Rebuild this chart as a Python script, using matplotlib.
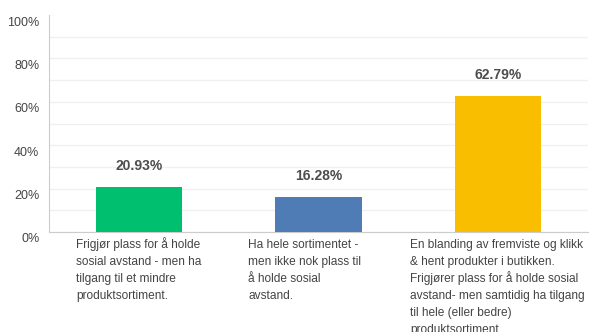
import matplotlib.pyplot as plt
from matplotlib.ticker import FixedLocator
from matplotlib.transforms import ScaledTranslation

categories = [
    "Frigjør plass for å holde\nsosial avstand - men ha\ntilgang til et mindre\nproduktsortiment.",
    "Ha hele sortimentet -\nmen ikke nok plass til\nå holde sosial\navstand.",
    "En blanding av fremviste og klikk\n& hent produkter i butikken.\nFrigjører plass for å holde sosial\navstand- men samtidig ha tilgang\ntil hele (eller bedre)\nproduktsortiment.",
]
values = [20.93, 16.28, 62.79]
tick_values = [0, 20, 40, 60, 80, 100]
tick_labels = ["0%", "20%", "40%", "60%", "80%", "100%"]

bar_colors = ["#00bf6f", "#507cb6", "#f9be00"]
label_shift = [-0.35, -0.39, -0.49]  # left edge of wrapped label vs bar centre

plt.rcParams['font.family'] = ['Liberation Sans', 'DejaVu Sans']

fig = plt.figure(figsize=(6.16, 3.32), dpi=100)
ax = fig.add_axes([49 / 616, 1 - 232 / 332, (588 - 49) / 616, (232 - 15) / 332])

x = range(len(values))
ax.bar(x, values, width=0.48, color=bar_colors, zorder=3)

for i, v in enumerate(values):
    ax.annotate(f"{v:.2f}%", (i, v), xytext=(0, 14), textcoords='offset pixels',
                ha='center', va='bottom', fontsize=10, fontweight='bold',
                color='#4d4d4d')

# one text per line so the line pitch stays even (å makes taller lines)
for i, txt in enumerate(categories):
    for j, line in enumerate(txt.split("\n")):
        ax.annotate(line, (i + label_shift[i], 0), xycoords=('data', 'axes fraction'),
                    xytext=(0, -16 - 17 * j), textcoords='offset pixels',
                    ha='left', va='baseline', fontsize=8.6, color='#444444',
                    annotation_clip=False)

ax.set_xlim(-0.5, 2.5)
ax.set_ylim(0, 100)
ax.set_xticks([])
ax.set_yticks(tick_values)
ax.set_yticklabels(tick_labels)
ax.yaxis.set_minor_locator(FixedLocator([10, 30, 50, 70, 90]))
ax.tick_params(axis='y', which='both', length=0, pad=7, labelsize=9, labelcolor='#444444')
shift = ScaledTranslation(0, -0.06, fig.dpi_scale_trans)
for lbl in ax.get_yticklabels():
    lbl.set_transform(lbl.get_transform() + shift)

ax.grid(axis='y', which='both', color='#f0f0f0', linewidth=1, zorder=0)
ax.yaxis.get_gridlines()[-1].set_visible(False)
for s in ['top', 'right']:
    ax.spines[s].set_visible(False)
ax.spines['left'].set_color('#cccccc')
ax.spines['bottom'].set_color('#cccccc')

plt.savefig("out.png", dpi=100)
